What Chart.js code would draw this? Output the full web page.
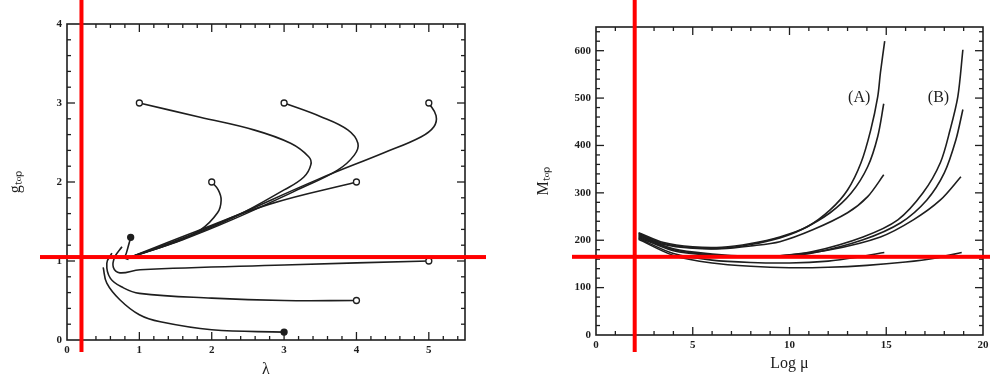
<!DOCTYPE html>
<html>
<head>
<meta charset="utf-8">
<script src="https://cdn.jsdelivr.net/npm/chart.js@4.4.0/dist/chart.umd.min.js"></script>
<style>
  html, body { margin: 0; padding: 0; background: #fff; }
  #wrap { position: relative; width: 990px; height: 379px; overflow: hidden; }
  .panel { position: absolute; top: 0; width: 495px; height: 379px; }
</style>
</head>
<body>
<div id="wrap">
  <div class="panel" style="left:0"><canvas id="gChart" width="495" height="379"></canvas></div>
  <div class="panel" style="left:495px"><canvas id="mChart" width="495" height="379"></canvas></div>
</div>
<script>
// ---- left panel: g_top against lambda, trajectories start at the marked points ----
const gCurve1 = [[1,3],[1.84,2.82],[2.58,2.66],[3.09,2.49],[3.34,2.32],[3.37,2.22],[3.27,2.06],[3.0,1.9],[2.3,1.55],[1.6,1.28],[0.85,1.04]];
const gCurve2 = [[3,3],[3.5,2.83],[3.88,2.66],[4.02,2.49],[3.97,2.34],[3.74,2.15],[3.23,1.92],[2.3,1.53],[1.6,1.27],[0.85,1.04]];
const gCurve3 = [[5,3],[5.1,2.84],[5.07,2.7],[4.89,2.57],[4.38,2.37],[3.46,2.03],[2.3,1.56],[1.6,1.29],[0.85,1.04]];
const gCurve4 = [[2,2],[2.09,1.9],[2.13,1.77],[2.08,1.61],[1.84,1.39],[1.47,1.23],[0.85,1.04]];
const gCurve5 = [[4,2],[2.8,1.72],[1.8,1.38],[0.85,1.04]];
const gCurve6 = [[0.88,1.3],[0.86,1.23],[0.82,1.1],[0.8,1.04],[0.85,1.02]];
const gCurve7 = [[5,1],[3,0.95],[1.01,0.89],[0.73,0.85],[0.64,0.92],[0.66,1.05],[0.76,1.18]];
const gCurve8 = [[4,0.5],[3,0.5],[2,0.53],[1,0.59],[0.78,0.66],[0.6,0.78],[0.55,0.97],[0.62,1.1]];
const gCurve9 = [[3,0.1],[2,0.13],[1.29,0.23],[1,0.32],[0.73,0.51],[0.55,0.72],[0.5,0.92]];
const gFilledStart = [false, false, false, false, false, true, false, false, true];
const lambdaTicks = [0, 1, 2, 3, 4, 5];
const gTopTicks = [0, 1, 2, 3, 4];

// ---- right panel: M_top against log mu, families (A) and (B) ----
const mCurveA1 = [[2.2,216],[3.5,195],[5,186],[6.5,185],[8,193],[9.5,207],[10.9,228],[12.1,264],[13,306],[13.7,364],[14.2,433],[14.56,503],[14.7,554],[14.92,620]];
const mCurveA2 = [[2.2,214],[3.5,193],[5,184],[6.5,183],[8,191],[9.5,205],[10.6,222],[12.1,258],[13.2,300],[14.04,355],[14.56,419],[14.87,488]];
const mCurveA3 = [[2.2,212],[3.5,191],[5,183],[6.5,182],[8,188],[9.5,197],[11.2,222],[13,258],[14.04,292],[14.87,338]];
const mCurveA4 = [[2.2,204],[4,172],[6,158],[8,153],[10,152],[12,156],[13.5,164],[14.9,174]];
const mCurveB1 = [[2.2,210],[4,182],[6,171],[8,166],[9.5,167],[11.2,176],[13.8,207],[15.6,243],[16.9,300],[17.8,364],[18.3,433],[18.7,503],[18.96,602]];
const mCurveB2 = [[2.2,208],[4,180],[6,169],[8,165],[9.5,166],[11.2,173],[13.8,201],[15.75,237],[17.1,285],[18,342],[18.6,412],[18.96,476]];
const mCurveB3 = [[2.2,206],[4,178],[6,168],[8,164],[9.5,167],[12.1,180],[14.7,207],[16.4,243],[17.8,285],[18.86,334]];
const mCurveB4 = [[2.2,202],[4,168],[6,152],[8,145],[10,142],[12,143],[14,147],[16,154],[17.5,162],[18.9,174]];
const logMuTicks = [0, 5, 10, 15, 20];
const mTopTicks = [0, 100, 200, 300, 400, 500, 600];
const familyLabels = [{ text: '(A)', x: 13.6, y: 500 }, { text: '(B)', x: 17.7, y: 500 }];

// red guide lines drawn over the figure (data coordinates)
const gGuide = { x: 0.2, y: 1.05 };
const mGuide = { x: 2.0, y: 165 };

const INK = '#1e1e1e';
const RED = '#ff0000';
const tickFont = { family: 'Liberation Serif', size: 11, weight: 'bold' };
const titleFont = { family: 'Liberation Serif', size: 16 };

// box round the plot with inward ticks on all four sides
const framePlugin = {
  id: 'frame',
  afterDatasetsDraw(chart, args, opts) {
    const { ctx, chartArea: a, scales: { x, y } } = chart;
    ctx.save();
    ctx.strokeStyle = INK;
    ctx.lineWidth = 1.6;
    ctx.strokeRect(a.left, a.top, a.right - a.left, a.bottom - a.top);
    ctx.lineWidth = 1.3;
    const seg = (x1, y1, x2, y2) => { ctx.beginPath(); ctx.moveTo(x1, y1); ctx.lineTo(x2, y2); ctx.stroke(); };
    const isMajor = (v, step) => Math.abs(v / step - Math.round(v / step)) < 1e-6;
    for (let i = 1; x.min + i * opts.xMinor < x.max - 1e-9; i++) {
      const v = x.min + i * opts.xMinor;
      const px = x.getPixelForValue(v);
      const len = isMajor(v, opts.xMajor) ? 8 : 4;
      seg(px, a.bottom, px, a.bottom - len);
      seg(px, a.top, px, a.top + len);
    }
    for (let i = 1; y.min + i * opts.yMinor < y.max - 1e-9; i++) {
      const v = y.min + i * opts.yMinor;
      const py = y.getPixelForValue(v);
      const len = isMajor(v, opts.yMajor) ? 8 : 4;
      seg(a.left, py, a.left + len, py);
      seg(a.right, py, a.right - len, py);
    }
    if (opts.labels) {
      ctx.fillStyle = INK;
      ctx.font = '16px "Liberation Serif"';
      ctx.textAlign = 'center';
      ctx.textBaseline = 'middle';
      opts.labels.forEach(l => ctx.fillText(l.text, x.getPixelForValue(l.x), y.getPixelForValue(l.y)));
    }
    ctx.restore();
  }
};

// the two red cross-hair lines
const guidePlugin = {
  id: 'guide',
  afterDraw(chart, args, opts) {
    const { ctx, scales: { x, y } } = chart;
    const gx = x.getPixelForValue(opts.x);
    const gy = y.getPixelForValue(opts.y);
    ctx.save();
    ctx.fillStyle = RED;
    ctx.fillRect(gx - 2, opts.vTop, 4, opts.vBottom - opts.vTop);
    ctx.fillRect(opts.hLeft, gy - 2, opts.hRight - opts.hLeft, 4);
    ctx.restore();
  }
};

function makeSets(curves, filled, markers) {
  return curves.map((d, i) => ({
    data: d,
    showLine: true,
    borderColor: INK,
    borderWidth: 1.6,
    tension: markers ? 0.4 : 0.3,
    pointRadius: c => (markers && c.dataIndex === 0 ? 3 : 0),
    pointBackgroundColor: filled && filled[i] ? INK : '#fff',
    pointBorderColor: INK,
    pointBorderWidth: 1.3
  }));
}

function axis(min, max, keep, title, fit, pad, titlePad) {
  return {
    type: 'linear',
    min: min,
    max: max,
    grid: { display: false, drawTicks: false },
    border: { display: false },
    ticks: { color: INK, font: tickFont, padding: pad },
    afterBuildTicks: s => { s.ticks = keep.map(v => ({ value: v })); },
    afterFit: fit,
    title: { display: true, text: title, color: INK, font: titleFont, padding: titlePad }
  };
}

new Chart(document.getElementById('gChart'), {
  type: 'scatter',
  data: { datasets: makeSets([gCurve1, gCurve2, gCurve3, gCurve4, gCurve5, gCurve6, gCurve7, gCurve8, gCurve9], gFilledStart, true) },
  options: {
    responsive: false,
    animation: false,
    layout: { padding: { left: 2, top: 24, right: 30, bottom: 0 } },
    plugins: {
      legend: { display: false },
      tooltip: { enabled: false },
      frame: { xMinor: 0.2, xMajor: 1, yMinor: 0.2, yMajor: 1 },
      guide: { x: gGuide.x, y: gGuide.y, vTop: 0, vBottom: 352, hLeft: 40, hRight: 486 }
    },
    scales: {
      x: axis(0, 5.5, lambdaTicks, 'λ', s => { s.height = 39; s.paddingRight = 0; }, 4, { top: 0, bottom: 0 }),
      y: axis(0, 4, gTopTicks, 'gₜₒₚ', s => { s.width = 65; }, 5, { top: 4, bottom: 4 })
    }
  },
  plugins: [framePlugin, guidePlugin]
});

new Chart(document.getElementById('mChart'), {
  type: 'scatter',
  data: { datasets: makeSets([mCurveA1, mCurveA2, mCurveA3, mCurveA4, mCurveB1, mCurveB2, mCurveB3, mCurveB4], null, false) },
  options: {
    responsive: false,
    animation: false,
    layout: { padding: { left: 35, top: 27, right: 7, bottom: 0 } },
    plugins: {
      legend: { display: false },
      tooltip: { enabled: false },
      frame: { xMinor: 1, xMajor: 5, yMinor: 20, yMajor: 100, labels: familyLabels },
      guide: { x: mGuide.x, y: mGuide.y, vTop: 0, vBottom: 352, hLeft: 77, hRight: 495 }
    },
    scales: {
      x: axis(0, 20, logMuTicks, 'Log μ', s => { s.height = 44; s.paddingRight = 0; s.paddingLeft = 0; }, 4, { top: 0, bottom: 6 }),
      y: axis(0, 650, mTopTicks, 'Mₜₒₚ', s => { s.width = 66; }, 5, { top: 4, bottom: 4 })
    }
  },
  plugins: [framePlugin, guidePlugin]
});
</script>
</body>
</html>
